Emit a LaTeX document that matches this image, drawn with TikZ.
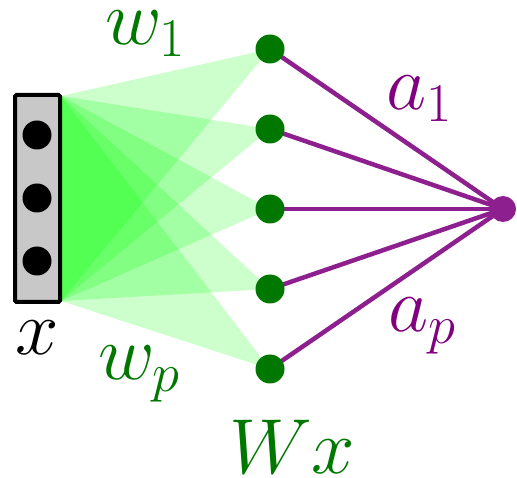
\RequirePackage{fix-cm}
\documentclass[tikz,border=0pt]{standalone}
\definecolor{dgreen}{HTML}{007800}
\definecolor{fangreen}{HTML}{00FF00}
\definecolor{lpurple}{HTML}{8E1F8E}
\definecolor{tpurple}{HTML}{800080}
\tikzset{
  fan/.style={fill=fangreen, fill opacity=0.2},
  vecbox/.style={draw=black, line width=4, fill={rgb,255:red,200;green,200;blue,200}, rounded corners=1.5, minimum width=45, minimum height=207, inner sep=0, outer sep=0},
  blackdot/.style={circle, fill=black, minimum size=29, inner sep=0},
  hidden/.style={circle, fill=dgreen, minimum size=29, inner sep=0},
  outnode/.style={circle, fill=lpurple, minimum size=26, inner sep=0},
  wline/.style={draw=lpurple, line width=4.5},
  glab/.style={text=dgreen, inner sep=0, anchor=base west, font=\fontsize{78}{86}\selectfont},
  plab/.style={text=tpurple, inner sep=0, anchor=base west, font=\fontsize{78}{86}\selectfont},
  klab/.style={text=black, inner sep=0, anchor=base west, font=\fontsize{78}{86}\selectfont}
}
\begin{document}
\begin{tikzpicture}[x=1pt,y=-1pt]
\useasboundingbox (0,0) rectangle (517,478);
\coordinate (h1) at (270,49);
\coordinate (h2) at (270,129);
\coordinate (h3) at (270,209);
\coordinate (h4) at (270,289);
\coordinate (h5) at (270,369);
\coordinate (outc) at (503,209);
\coordinate (ftop) at (61,96);
\coordinate (fbot) at (61,301);
% fans
\foreach \i in {1,...,5}{
  \fill[fan] (ftop) -- (h\i) -- (fbot) -- cycle;
}
% input vector
\node[vecbox] (xvec) at (37.5,198.5) {};
\node[blackdot] (d1) at (37,135) {};
\node[blackdot] (d2) at (37,198) {};
\node[blackdot] (d3) at (37,261) {};
% weights
\foreach \i in {1,...,5}{
  \draw[wline] (h\i) -- (outc);
}
% nodes
\foreach \i in {1,...,5}{
  \node[hidden] (n\i) at (h\i) {};
}
\node[outnode] (out) at (outc) {};
% labels
\node[glab] (lw1) at (105,45) {$w_1$};
\node[glab] (lwp) at (98,380) {$w_p$};
\node[plab] (la1) at (386,110) {$a_1$};
\node[plab] (lap) at (388,332) {$a_p$};
\node[klab] (lx) at (15,355) {$x$};
\node[glab] (lWx) at (229,473) {$Wx$};
\end{tikzpicture}
\end{document}
